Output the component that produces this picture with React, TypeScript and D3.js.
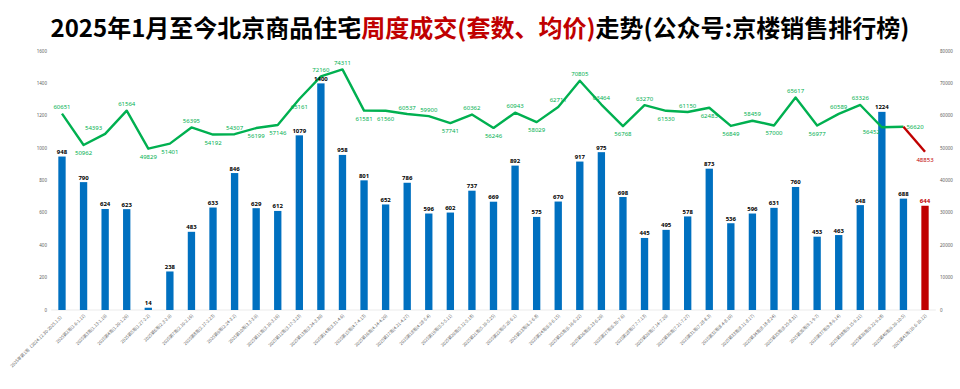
import React from 'react';
import { scaleLinear, scalePoint, line, range } from 'd3';

const weekLabels = [
  '2025年第1周（2024.12.30-2025.1.5）', '2025第2周(1.6-1.12)', '2025第3周(1.13-1.19)', '2025第4周(1.20-1.26)',
  '2025第5周(1.27-2.2)', '2025第6周(2.3-2.9)', '2025第7周(2.10-2.16)', '2025第8周(2.17-2.23)',
  '2025第9周(2.24-3.2)', '2025第10周(3.3-3.9)', '2025第11周(3.10-3.16)', '2025第12周(3.17-3.23)',
  '2025第13周(3.24-3.30)', '2025第14周(3.31-4.6)', '2025第15周(4.7-4.13)', '2025第16周(4.14-4.20)',
  '2025第17周(4.21-4.27)', '2025第18周(4.28-5.4)', '2025第19周(5.5-5.11)', '2025第20周(5.12-5.18)',
  '2025第21周(5.19-5.25)', '2025第22周(5.26-6.1)', '2025第23周(6.2-6.8)', '2025第24周(6.9-6.15)',
  '2025第25周(6.16-6.22)', '2025第26周(6.23-6.29)', '2025第27周(6.30-7.6)', '2025第28周(7.7-7.13)',
  '2025第29周(7.14-7.20)', '2025第30周(7.21-7.27)', '2025第31周(7.28-8.3)', '2025第32周(8.4-8.10)',
  '2025第33周(8.11-8.17)', '2025第34周(8.18-8.24)', '2025第35周(8.25-8.31)', '2025第36周(9.1-9.7)',
  '2025第37周(9.8-9.14)', '2025第38周(9.15-9.21)', '2025第39周(9.22-9.28)', '2025第40周(9.29-10.5)',
  '2025第41周(10.6-10.12)',
];

const units = [
  948, 790, 624, 623, 14, 238, 483, 633, 846, 629, 612, 1079, 1400, 958, 801, 652, 786, 596, 602, 737,
  669, 892, 575, 670, 917, 975, 698, 445, 495, 578, 873, 536, 596, 631, 760, 453, 463, 648, 1224, 688, 644,
];

const avgPrice = [
  60651, 50962, 54393, 61564, 49829, 51401, 56395, 54192, 54307, 56199, 57146, 65161, 72160, 74311, 61581,
  61560, 60537, 59900, 57741, 60362, 56246, 60943, 58029, 62711, 70805, 63464, 56768, 63270, 61530, 61150,
  62483, 56849, 58459, 57000, 65617, 56977, 60589, 63326, 56452, 56620, 48853,
];

const leftTicks = range(0, 1601, 200);
const rightTicks = range(0, 80001, 10000);

const BLUE = '#0070C0';
const RED = '#C00000';
const GREEN = '#00B050';
const AXIS_GRAY = '#595959';
const FONT = '"Noto Sans", "Noto Sans CJK SC", sans-serif';

// which line labels sit under the point (Excel manual placement), index 39 goes right
const belowIdx = new Set([1, 4, 5, 7, 9, 10, 11, 14, 15, 18, 20, 22, 26, 28, 30, 31, 33, 35, 38, 40]);

export default function App() {
  const width = 960;
  const height = 389;
  const plot = { left: 51.2, right: 935.8, top: 51, bottom: 310 };
  const last = units.length - 1;

  const x = scalePoint<number>()
    .domain(units.map((_, i) => i))
    .range([plot.left, plot.right])
    .padding(0.5);
  const step = x.step();
  const barW = step * 0.34;

  const yL = scaleLinear().domain([0, 1600]).range([plot.bottom, plot.top]);
  const yR = scaleLinear().domain([0, 80000]).range([plot.bottom, plot.top]);

  const pts: [number, number][] = avgPrice.map((v, i) => [x(i) as number, yR(v)]);
  const lineGen = line<[number, number]>();
  const greenPath = lineGen(pts.slice(0, last)) || '';
  const redPath = lineGen(pts.slice(last - 1)) || '';

  return (
    <svg width={width} height={height} style={{ position: 'absolute', left: 0, top: 0, background: '#fff' }} fontFamily={FONT}>
      <text x={480} y={37} textAnchor="middle" fontSize={24} fontWeight="bold" fontFamily='"Noto Sans CJK SC", sans-serif'>
        <tspan fill="#000">2025年1月至今北京商品住宅</tspan>
        <tspan fill={RED}>周度成交(套数、均价)</tspan>
        <tspan fill="#000">走势(公众号:京楼销售排行榜)</tspan>
      </text>

      {/* left axis */}
      <g>
        {leftTicks.map(t => (
          <text key={t} x={47} y={yL(t)} dy="0.35em" textAnchor="end" fontSize={4.5} fill={AXIS_GRAY}>{t}</text>
        ))}
      </g>
      {/* right axis */}
      <g>
        {rightTicks.map(t => (
          <text key={t} x={940} y={yR(t)} dy="0.35em" textAnchor="start" fontSize={4.5} fill={AXIS_GRAY}>{t}</text>
        ))}
      </g>

      <line x1={plot.left} x2={plot.right} y1={plot.bottom} y2={plot.bottom} stroke="#e6e6e6" strokeWidth={0.8} />

      {/* bars */}
      <g>
        {units.map((v, i) => (
          <rect
            key={i}
            x={(x(i) as number) - barW / 2}
            y={yL(v)}
            width={barW}
            height={plot.bottom - yL(v)}
            fill={i === last ? RED : BLUE}
          />
        ))}
      </g>

      {/* x labels */}
      <g>
        {weekLabels.map((lab, i) => (
          <text
            key={i}
            transform={`translate(${(x(i) as number) + 2},${plot.bottom + 6}) rotate(-45)`}
            textAnchor="end"
            fontSize={4.3}
            fill={AXIS_GRAY}
            fontFamily='"Noto Sans CJK SC", sans-serif'
          >{lab}</text>
        ))}
      </g>

      {/* line */}
      <path d={greenPath} fill="none" stroke={GREEN} strokeWidth={2.4} strokeLinejoin="round" />
      <path d={redPath} fill="none" stroke={RED} strokeWidth={2.4} strokeLinejoin="round" />

      {/* bar labels */}
      <g>
        {units.map((v, i) => (
          <text
            key={i}
            x={x(i) as number}
            y={yL(v) - 2.5}
            textAnchor="middle"
            fontSize={6}
            fontWeight="bold"
            fill={i === last ? RED : '#000'}
          >{v}</text>
        ))}
      </g>

      {/* line labels */}
      <g>
        {avgPrice.map((v, i) => {
          const [px, py] = pts[i];
          let tx = px;
          let ty = belowIdx.has(i) ? py + 10 : py - 4.5;
          let anchor: 'middle' | 'start' | 'end' = 'middle';
          if (i === 2) {
            tx = px - 3;
            ty = py - 4;
            anchor = 'end';
          }
          if (i === last - 2) {
            tx = px - 2;
            ty = py + 7;
            anchor = 'end';
          }
          if (i === last - 1) {
            tx = px + 3;
            ty = py + 2;
            anchor = 'start';
          }
          return (
            <text key={i} x={tx} y={ty} textAnchor={anchor} fontSize={6} fill={i === last ? RED : GREEN}>{v}</text>
          );
        })}
      </g>
    </svg>
  );
}
